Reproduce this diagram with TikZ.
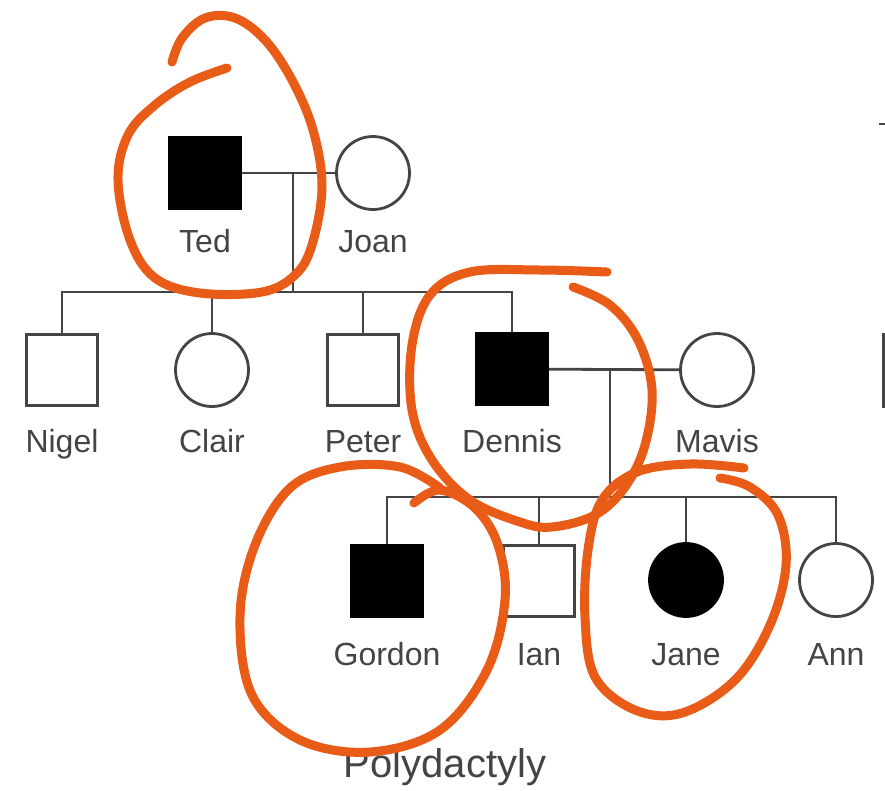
\documentclass[tikz,border=0pt]{standalone}
\usepackage{fontspec}
\setmainfont{Liberation Sans}
\usetikzlibrary{positioning}
\definecolor{ink}{RGB}{68,68,68}
\definecolor{pen}{RGB}{232,92,24}
\tikzset{male/.style={rectangle,draw=ink,line width=2.8pt,minimum size=71pt,inner sep=0pt},female/.style={circle,draw=ink,line width=2.8pt,minimum size=73pt,inner sep=0pt},affected/.style={fill=black,draw=black},tag/.style={text=ink,anchor=base,font=\fontsize{32}{32}\selectfont},link/.style={draw=ink,line width=2.8pt},ring/.style={draw=pen,line width=9pt,line cap=round,line join=round}}

\begin{document}
\begin{tikzpicture}[x=1pt,y=-1pt]
\useasboundingbox (0,0) rectangle (885,790);
\fill[white] (0,0) rectangle (885,790);
% generation I
\node[male, affected] (ted) at (205,173) {};
\node[female] (joan) at (373,173) {};
\coordinate (m1) at (293,173);
\coordinate (s1) at (293,292);
% generation II
\node[male] (nigel) at (62,370) {};
\node[female] (clair) at (212,370) {};
\node[male] (peter) at (363,370) {};
\node[male, affected] (dennis) at (512,369) {};
\node[female] (mavis) at (717,370) {};
\coordinate (m2) at (610,369);
\coordinate (s2) at (610,497);
% generation III
\node[male, affected] (gordon) at (387,581) {};
\node[male] (ian) at (539,581) {};
\node[female, affected] (jane) at (686,580) {};
\node[female] (ann) at (836,580) {};
% couples and sibships
\draw[link] (ted) -- (joan);
\draw[link] (m1) -- (s1);
\draw[link] (nigel.north) |- (s1);
\draw[link] (clair.north) |- (s1);
\draw[link] (peter.north) |- (s1);
\draw[link] (dennis.north) |- (s1);
\draw[link] (dennis) -- (mavis);
\draw[link] (m2) -- (s2);
\draw[link] (gordon.north) |- (s2);
\draw[link] (ian.north) |- (s2);
\draw[link] (jane.north) |- (s2);
\draw[link] (ann.north) |- (s2);
% names
\node[tag] (tedlbl) at (205,252) {Ted};
\node[tag] (joanlbl) at (373,252) {Joan};
\node[tag] (nigellbl) at (62,452) {Nigel};
\node[tag] (clairlbl) at (212,452) {Clair};
\node[tag] (peterlbl) at (363,452) {Peter};
\node[tag] (dennislbl) at (512,452) {Dennis};
\node[tag] (mavislbl) at (717,452) {Mavis};
\node[tag] (gordonlbl) at (387,665) {Gordon};
\node[tag] (ianlbl) at (539,665) {Ian};
\node[tag] (janelbl) at (686,665) {Jane};
\node[tag] (annlbl) at (836,665) {Ann};
\node[tag, font=\fontsize{40}{40}\selectfont] (title) at (445,777) {Polydactyly};
% edge of the next chart
\draw[ink, line width=3pt] (883,333) -- (883,408);
\draw[ink, line width=2pt] (879,124) -- (885,124);
% marker rings
\draw[ring] plot[smooth, tension=0.6] coordinates {(172,62) (182,38) (205,18) (235,18) (265,40) (292,80) (313,130) (322,187) (312,245) (295,275) (262,292) (200,293) (155,278) (130,240) (118,180) (128,135) (155,105) (190,82) (227,68)};
\draw[ring] plot[smooth, tension=0.6] coordinates {(607,272) (540,270) (470,272) (430,295) (412,345) (412,410) (432,460) (470,500) (520,522) (552,527) (595,515) (625,487) (645,445) (652,390) (638,340) (610,305) (573,287)};
\draw[ring] plot[smooth, tension=0.6] coordinates {(440,488) (400,467) (340,467) (290,488) (255,545) (240,617) (252,695) (300,740) (370,752) (440,730) (487,670) (505,600) (498,545) (475,508) (440,490) (414,503)};
\draw[ring] plot[smooth, tension=0.6] coordinates {(744,468) (690,464) (637,472) (602,500) (588,550) (585,617) (595,677) (635,710) (682,713) (735,680) (770,625) (786,565) (778,515) (750,487) (720,478)};
\end{tikzpicture}
\end{document}
